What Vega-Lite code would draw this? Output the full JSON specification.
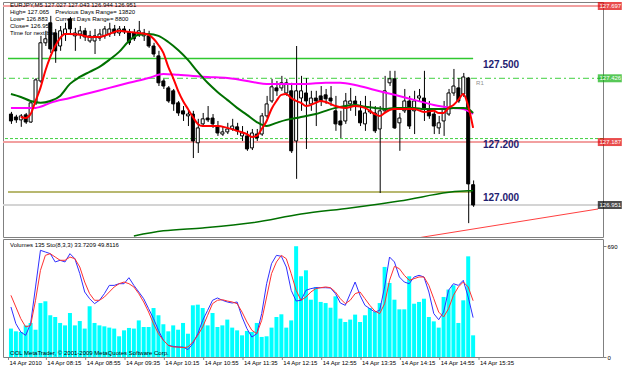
{
"$schema": "https://vega.github.io/schema/vega-lite/v6.json",
"background": "white",
"padding": {"left": 1, "top": 1, "right": 0, "bottom": 2},
"spacing": 2,
"bounds": "flush",
"config": {
  "view": {"stroke": "#808080", "strokeWidth": 1},
  "font": "Liberation Sans",
  "axis": {"labelFont": "Liberation Sans", "labelFontSize": 6, "labelColor": "#000000", "tickColor": "#808080", "tickSize": 3, "domain": false, "grid": false, "labelPadding": 1}
},
"datasets": {
  "candles": [
{"i":0,"o":127.292,"h":127.300,"l":127.255,"c":127.266},
{"i":1,"o":127.281,"h":127.289,"l":127.259,"c":127.270},
{"i":2,"o":127.270,"h":127.292,"l":127.244,"c":127.285},
{"i":3,"o":127.289,"h":127.296,"l":127.255,"c":127.262},
{"i":4,"o":127.262,"h":127.341,"l":127.259,"c":127.334},
{"i":5,"o":127.334,"h":127.427,"l":127.326,"c":127.420},
{"i":6,"o":127.416,"h":127.585,"l":127.409,"c":127.559},
{"i":7,"o":127.559,"h":127.604,"l":127.547,"c":127.574},
{"i":8,"o":127.634,"h":127.660,"l":127.521,"c":127.536},
{"i":9,"o":127.596,"h":127.611,"l":127.484,"c":127.529},
{"i":10,"o":127.547,"h":127.622,"l":127.529,"c":127.604},
{"i":11,"o":127.592,"h":127.634,"l":127.566,"c":127.611},
{"i":12,"o":127.649,"h":127.656,"l":127.592,"c":127.611},
{"i":13,"o":127.585,"h":127.615,"l":127.529,"c":127.596},
{"i":14,"o":127.592,"h":127.622,"l":127.574,"c":127.604},
{"i":15,"o":127.604,"h":127.615,"l":127.566,"c":127.581},
{"i":16,"o":127.566,"h":127.604,"l":127.559,"c":127.585},
{"i":17,"o":127.566,"h":127.611,"l":127.517,"c":127.585},
{"i":18,"o":127.577,"h":127.611,"l":127.566,"c":127.592},
{"i":19,"o":127.585,"h":127.622,"l":127.574,"c":127.611},
{"i":20,"o":127.592,"h":127.634,"l":127.581,"c":127.611},
{"i":21,"o":127.611,"h":127.626,"l":127.585,"c":127.596},
{"i":22,"o":127.596,"h":127.622,"l":127.585,"c":127.611},
{"i":23,"o":127.611,"h":127.622,"l":127.592,"c":127.600},
{"i":24,"o":127.600,"h":127.611,"l":127.551,"c":127.559},
{"i":25,"o":127.596,"h":127.611,"l":127.566,"c":127.574},
{"i":26,"o":127.589,"h":127.641,"l":127.581,"c":127.604},
{"i":27,"o":127.585,"h":127.611,"l":127.566,"c":127.596},
{"i":28,"o":127.585,"h":127.604,"l":127.540,"c":127.547},
{"i":29,"o":127.547,"h":127.559,"l":127.506,"c":127.517},
{"i":30,"o":127.510,"h":127.529,"l":127.397,"c":127.409},
{"i":31,"o":127.416,"h":127.424,"l":127.386,"c":127.397},
{"i":32,"o":127.390,"h":127.397,"l":127.334,"c":127.341},
{"i":33,"o":127.379,"h":127.386,"l":127.304,"c":127.330},
{"i":34,"o":127.334,"h":127.341,"l":127.285,"c":127.296},
{"i":35,"o":127.304,"h":127.322,"l":127.266,"c":127.292},
{"i":36,"o":127.285,"h":127.311,"l":127.247,"c":127.292},
{"i":37,"o":127.292,"h":127.304,"l":127.127,"c":127.191},
{"i":38,"o":127.184,"h":127.274,"l":127.146,"c":127.240},
{"i":39,"o":127.255,"h":127.296,"l":127.247,"c":127.274},
{"i":40,"o":127.277,"h":127.322,"l":127.262,"c":127.270},
{"i":41,"o":127.277,"h":127.292,"l":127.240,"c":127.255},
{"i":42,"o":127.247,"h":127.266,"l":127.210,"c":127.221},
{"i":43,"o":127.217,"h":127.244,"l":127.210,"c":127.225},
{"i":44,"o":127.225,"h":127.259,"l":127.217,"c":127.236},
{"i":45,"o":127.236,"h":127.274,"l":127.229,"c":127.247},
{"i":46,"o":127.244,"h":127.259,"l":127.214,"c":127.229},
{"i":47,"o":127.210,"h":127.247,"l":127.191,"c":127.221},
{"i":48,"o":127.210,"h":127.229,"l":127.154,"c":127.161},
{"i":49,"o":127.165,"h":127.236,"l":127.157,"c":127.221},
{"i":50,"o":127.217,"h":127.236,"l":127.191,"c":127.202},
{"i":51,"o":127.217,"h":127.296,"l":127.210,"c":127.285},
{"i":52,"o":127.285,"h":127.360,"l":127.277,"c":127.330},
{"i":53,"o":127.341,"h":127.424,"l":127.334,"c":127.394},
{"i":54,"o":127.390,"h":127.416,"l":127.360,"c":127.379},
{"i":55,"o":127.390,"h":127.435,"l":127.379,"c":127.409},
{"i":56,"o":127.371,"h":127.424,"l":127.360,"c":127.409},
{"i":57,"o":127.379,"h":127.409,"l":127.146,"c":127.154},
{"i":58,"o":127.191,"h":127.547,"l":127.049,"c":127.379},
{"i":59,"o":127.352,"h":127.435,"l":127.304,"c":127.379},
{"i":60,"o":127.371,"h":127.427,"l":127.161,"c":127.341},
{"i":61,"o":127.330,"h":127.379,"l":127.304,"c":127.352},
{"i":62,"o":127.352,"h":127.379,"l":127.247,"c":127.341},
{"i":63,"o":127.360,"h":127.397,"l":127.322,"c":127.341},
{"i":64,"o":127.364,"h":127.386,"l":127.330,"c":127.349},
{"i":65,"o":127.352,"h":127.397,"l":127.322,"c":127.341},
{"i":66,"o":127.304,"h":127.360,"l":127.229,"c":127.255},
{"i":67,"o":127.266,"h":127.304,"l":127.202,"c":127.251},
{"i":68,"o":127.266,"h":127.371,"l":127.255,"c":127.341},
{"i":69,"o":127.330,"h":127.390,"l":127.304,"c":127.341},
{"i":70,"o":127.341,"h":127.360,"l":127.285,"c":127.330},
{"i":71,"o":127.304,"h":127.341,"l":127.247,"c":127.259},
{"i":72,"o":127.255,"h":127.360,"l":127.229,"c":127.296},
{"i":73,"o":127.300,"h":127.341,"l":127.292,"c":127.304},
{"i":74,"o":127.296,"h":127.322,"l":127.221,"c":127.229},
{"i":75,"o":127.236,"h":127.322,"l":126.996,"c":127.304},
{"i":76,"o":127.304,"h":127.435,"l":127.296,"c":127.379},
{"i":77,"o":127.409,"h":127.454,"l":127.397,"c":127.424},
{"i":78,"o":127.424,"h":127.454,"l":127.236,"c":127.240},
{"i":79,"o":127.259,"h":127.296,"l":127.154,"c":127.277},
{"i":80,"o":127.304,"h":127.386,"l":127.296,"c":127.341},
{"i":81,"o":127.341,"h":127.360,"l":127.236,"c":127.247},
{"i":82,"o":127.304,"h":127.379,"l":127.217,"c":127.341},
{"i":83,"o":127.352,"h":127.386,"l":127.341,"c":127.360},
{"i":84,"o":127.352,"h":127.454,"l":127.266,"c":127.311},
{"i":85,"o":127.311,"h":127.341,"l":127.274,"c":127.285},
{"i":86,"o":127.292,"h":127.311,"l":127.217,"c":127.247},
{"i":87,"o":127.240,"h":127.285,"l":127.217,"c":127.259},
{"i":88,"o":127.266,"h":127.341,"l":127.210,"c":127.311},
{"i":89,"o":127.292,"h":127.386,"l":127.285,"c":127.371},
{"i":90,"o":127.371,"h":127.461,"l":127.360,"c":127.397},
{"i":91,"o":127.390,"h":127.427,"l":127.334,"c":127.341},
{"i":92,"o":127.367,"h":127.446,"l":127.356,"c":127.431},
{"i":93,"o":127.427,"h":127.431,"l":126.883,"c":127.030},
{"i":94,"o":127.027,"h":127.043,"l":126.944,"c":126.951}
  ],
  "maRed": [
{"i":2,"p":127.281},{"i":3,"p":127.277},{"i":4,"p":127.292},{"i":5,"p":127.341},{"i":6,"p":127.390},{"i":7,"p":127.454},{"i":8,"p":127.506},{"i":9,"p":127.547},{"i":10,"p":127.577},{"i":11,"p":127.592},{"i":12,"p":127.592},{"i":14,"p":127.589},{"i":16,"p":127.581},{"i":18,"p":127.581},{"i":20,"p":127.592},{"i":22,"p":127.604},{"i":24,"p":127.600},{"i":26,"p":127.596},{"i":28,"p":127.589},{"i":29,"p":127.574},{"i":30,"p":127.551},{"i":31,"p":127.521},{"i":32,"p":127.469},{"i":33,"p":127.427},{"i":34,"p":127.379},{"i":35,"p":127.341},{"i":36,"p":127.311},{"i":37,"p":127.281},{"i":38,"p":127.255},{"i":39,"p":127.247},{"i":40,"p":127.247},{"i":42,"p":127.247},{"i":44,"p":127.240},{"i":46,"p":127.229},{"i":48,"p":127.217},{"i":49,"p":127.206},{"i":50,"p":127.210},{"i":51,"p":127.236},{"i":52,"p":127.266},{"i":53,"p":127.311},{"i":54,"p":127.341},{"i":55,"p":127.364},{"i":56,"p":127.367},{"i":57,"p":127.352},{"i":58,"p":127.341},{"i":59,"p":127.334},{"i":60,"p":127.322},{"i":61,"p":127.326},{"i":62,"p":127.334},{"i":63,"p":127.341},{"i":64,"p":127.337},{"i":65,"p":127.330},{"i":66,"p":127.322},{"i":68,"p":127.315},{"i":70,"p":127.322},{"i":72,"p":127.315},{"i":74,"p":127.292},{"i":75,"p":127.285},{"i":76,"p":127.296},{"i":77,"p":127.307},{"i":78,"p":127.311},{"i":80,"p":127.311},{"i":82,"p":127.311},{"i":84,"p":127.300},{"i":86,"p":127.304},{"i":87,"p":127.296},{"i":88,"p":127.296},{"i":89,"p":127.315},{"i":90,"p":127.326},{"i":91,"p":127.345},{"i":92,"p":127.367},{"i":93,"p":127.322},{"i":94,"p":127.240}
  ],
  "maGreen": [
{"i":0,"p":127.367},{"i":2,"p":127.356},{"i":4,"p":127.341},{"i":6,"p":127.334},{"i":8,"p":127.341},{"i":10,"p":127.360},{"i":12,"p":127.405},{"i":14,"p":127.431},{"i":16,"p":127.450},{"i":18,"p":127.469},{"i":20,"p":127.495},{"i":22,"p":127.525},{"i":24,"p":127.566},{"i":26,"p":127.589},{"i":28,"p":127.592},{"i":30,"p":127.585},{"i":32,"p":127.562},{"i":34,"p":127.532},{"i":36,"p":127.495},{"i":38,"p":127.450},{"i":40,"p":127.409},{"i":42,"p":127.375},{"i":44,"p":127.345},{"i":46,"p":127.315},{"i":48,"p":127.289},{"i":50,"p":127.262},{"i":52,"p":127.247},{"i":54,"p":127.259},{"i":56,"p":127.270},{"i":58,"p":127.277},{"i":60,"p":127.285},{"i":62,"p":127.292},{"i":64,"p":127.304},{"i":66,"p":127.315},{"i":68,"p":127.322},{"i":70,"p":127.326},{"i":72,"p":127.319},{"i":74,"p":127.315},{"i":76,"p":127.311},{"i":78,"p":127.315},{"i":80,"p":127.315},{"i":82,"p":127.315},{"i":84,"p":127.311},{"i":86,"p":127.311},{"i":88,"p":127.311},{"i":90,"p":127.315},{"i":92,"p":127.315},{"i":93,"p":127.311},{"i":94,"p":127.296}
  ],
  "maMagenta": [
{"i":0,"p":127.315},{"i":5,"p":127.315},{"i":6,"p":127.319},{"i":8,"p":127.334},{"i":12,"p":127.352},{"i":16,"p":127.371},{"i":20,"p":127.390},{"i":24,"p":127.409},{"i":28,"p":127.427},{"i":31,"p":127.442},{"i":34,"p":127.439},{"i":40,"p":127.431},{"i":44,"p":127.427},{"i":48,"p":127.416},{"i":50,"p":127.409},{"i":52,"p":127.405},{"i":56,"p":127.405},{"i":60,"p":127.405},{"i":64,"p":127.409},{"i":67,"p":127.409},{"i":70,"p":127.401},{"i":74,"p":127.382},{"i":78,"p":127.364},{"i":82,"p":127.345},{"i":86,"p":127.326},{"i":90,"p":127.315},{"i":92,"p":127.311},{"i":94,"p":127.292}
  ],
  "maLong": [
{"i":25,"p":126.835},{"i":31,"p":126.854},{"i":39,"p":126.865},{"i":49,"p":126.884},{"i":59,"p":126.917},{"i":69,"p":126.940},{"i":75,"p":126.955},{"i":79,"p":126.966},{"i":93,"p":127.004},{"i":94,"p":127.004}
  ],
  "trend": [{"i":83.2,"p":126.829},{"i":119.4,"p":126.936}],
  "boxes": [{"p":127.697,"k":"r"},{"p":127.426,"k":"g"},{"p":127.187,"k":"r"},{"p":126.951,"k":"b"}],
  "ticks": [{"t":-0.5,"lab":"14 Apr 2010"},{"t":7.2,"lab":"14 Apr 08:15"},{"t":15.2,"lab":"14 Apr 08:55"},{"t":23.2,"lab":"14 Apr 09:35"},{"t":31.2,"lab":"14 Apr 10:15"},{"t":39.2,"lab":"14 Apr 10:55"},{"t":47.2,"lab":"14 Apr 11:35"},{"t":55.2,"lab":"14 Apr 12:15"},{"t":63.2,"lab":"14 Apr 12:55"},{"t":71.2,"lab":"14 Apr 13:35"},{"t":79.2,"lab":"14 Apr 14:15"},{"t":87.2,"lab":"14 Apr 14:55"},{"t":95.2,"lab":"14 Apr 15:35"}],
  "volumes": [
{"i":0,"v":177},{"i":1,"v":160},{"i":2,"v":156},{"i":3,"v":197},{"i":4,"v":212},{"i":5,"v":170},{"i":6,"v":336},{"i":7,"v":347},{"i":8,"v":260},{"i":9,"v":249},{"i":10,"v":212},{"i":11,"v":197},{"i":12,"v":274},{"i":13,"v":197},{"i":14,"v":224},{"i":15,"v":177},{"i":16,"v":316},{"i":17,"v":212},{"i":18,"v":197},{"i":19,"v":191},{"i":20,"v":183},{"i":21,"v":177},{"i":22,"v":129},{"i":23,"v":166},{"i":24,"v":181},{"i":25,"v":177},{"i":26,"v":228},{"i":27,"v":187},{"i":28,"v":187},{"i":29,"v":305},{"i":30,"v":260},{"i":31,"v":204},{"i":32,"v":160},{"i":33,"v":197},{"i":34,"v":170},{"i":35,"v":212},{"i":36,"v":145},{"i":37,"v":322},{"i":38,"v":326},{"i":39,"v":305},{"i":40,"v":197},{"i":41,"v":274},{"i":42,"v":187},{"i":43,"v":197},{"i":44,"v":233},{"i":45,"v":183},{"i":46,"v":166},{"i":47,"v":135},{"i":48,"v":162},{"i":49,"v":156},{"i":50,"v":212},{"i":51,"v":125},{"i":52,"v":129},{"i":53,"v":183},{"i":54,"v":249},{"i":55,"v":266},{"i":56,"v":183},{"i":57,"v":228},{"i":58,"v":690},{"i":59,"v":503},{"i":60,"v":540},{"i":61,"v":357},{"i":62,"v":436},{"i":63,"v":343},{"i":64,"v":336},{"i":65,"v":307},{"i":66,"v":378},{"i":67,"v":239},{"i":68,"v":218},{"i":69,"v":233},{"i":70,"v":264},{"i":71,"v":218},{"i":72,"v":260},{"i":73,"v":305},{"i":74,"v":280},{"i":75,"v":336},{"i":76,"v":561},{"i":77,"v":461},{"i":78,"v":357},{"i":79,"v":297},{"i":80,"v":297},{"i":81,"v":503},{"i":82,"v":332},{"i":83,"v":343},{"i":84,"v":363},{"i":85,"v":249},{"i":86,"v":222},{"i":87,"v":183},{"i":88,"v":374},{"i":89,"v":420},{"i":90,"v":447},{"i":91,"v":212},{"i":92,"v":353},{"i":93,"v":627},{"i":94,"v":135}
  ],
  "stoch": [
{"i":0,"k":43.8,"d":54.9},{"i":1,"k":27.9,"d":43.8},{"i":2,"k":20.0,"d":32.7},{"i":3,"k":16.8,"d":24.8},{"i":4,"k":27.9,"d":26.3},{"i":5,"k":62.9,"d":50.2},{"i":6,"k":97.8,"d":78.7},{"i":7,"k":96.2,"d":93.0},{"i":8,"k":94.6,"d":94.6},{"i":9,"k":86.7,"d":91.4},{"i":10,"k":88.3,"d":88.3},{"i":11,"k":86.7,"d":88.3},{"i":12,"k":94.6,"d":91.4},{"i":13,"k":89.8,"d":89.8},{"i":14,"k":75.6,"d":81.9},{"i":15,"k":58.1,"d":67.6},{"i":16,"k":51.7,"d":56.5},{"i":17,"k":47.0,"d":50.2},{"i":18,"k":50.2,"d":50.2},{"i":19,"k":56.5,"d":53.3},{"i":20,"k":64.4,"d":58.1},{"i":21,"k":64.4,"d":62.9},{"i":22,"k":66.0,"d":66.0},{"i":23,"k":66.0,"d":67.6},{"i":24,"k":71.7,"d":66.0},{"i":25,"k":64.4,"d":62.9},{"i":26,"k":58.1,"d":56.5},{"i":27,"k":51.7,"d":48.6},{"i":28,"k":42.2,"d":39.0},{"i":29,"k":32.7,"d":27.9},{"i":30,"k":21.6,"d":18.4},{"i":31,"k":12.1,"d":12.1},{"i":32,"k":7.3,"d":7.3},{"i":33,"k":6.3,"d":5.7},{"i":34,"k":5.7,"d":5.7},{"i":35,"k":5.7,"d":5.1},{"i":36,"k":3.2,"d":5.7},{"i":37,"k":8.9,"d":10.5},{"i":38,"k":18.4,"d":16.8},{"i":39,"k":31.1,"d":24.8},{"i":40,"k":40.6,"d":35.9},{"i":41,"k":50.2,"d":47.0},{"i":42,"k":52.4,"d":50.2},{"i":43,"k":50.2,"d":50.8},{"i":44,"k":48.6,"d":49.5},{"i":45,"k":47.6,"d":48.6},{"i":46,"k":48.6,"d":47.0},{"i":47,"k":34.3,"d":39.0},{"i":48,"k":23.2,"d":29.5},{"i":49,"k":15.2,"d":21.6},{"i":50,"k":18.4,"d":18.4},{"i":51,"k":37.5,"d":31.1},{"i":52,"k":66.0,"d":53.3},{"i":53,"k":85.1,"d":75.6},{"i":54,"k":93.0,"d":86.7},{"i":55,"k":92.1,"d":93.0},{"i":56,"k":81.9,"d":89.8},{"i":57,"k":59.7,"d":75.6},{"i":58,"k":49.5,"d":59.7},{"i":59,"k":50.2,"d":50.2},{"i":60,"k":59.7,"d":53.3},{"i":61,"k":61.3,"d":58.1},{"i":62,"k":62.2,"d":61.3},{"i":63,"k":62.2,"d":62.2},{"i":64,"k":62.2,"d":62.9},{"i":65,"k":61.9,"d":62.2},{"i":66,"k":56.5,"d":58.1},{"i":67,"k":47.6,"d":51.7},{"i":68,"k":45.4,"d":47.0},{"i":69,"k":56.5,"d":50.2},{"i":70,"k":67.6,"d":56.5},{"i":71,"k":54.9,"d":58.1},{"i":72,"k":45.4,"d":51.7},{"i":73,"k":42.2,"d":45.4},{"i":74,"k":39.0,"d":40.0},{"i":75,"k":40.6,"d":37.5},{"i":76,"k":62.9,"d":47.0},{"i":77,"k":91.4,"d":69.2},{"i":78,"k":86.7,"d":82.5},{"i":79,"k":72.4,"d":80.3},{"i":80,"k":67.6,"d":74.0},{"i":81,"k":66.0,"d":69.2},{"i":82,"k":72.4,"d":70.8},{"i":83,"k":74.0,"d":72.4},{"i":84,"k":72.4,"d":72.4},{"i":85,"k":58.1,"d":64.4},{"i":86,"k":37.5,"d":51.7},{"i":87,"k":31.7,"d":39.0},{"i":88,"k":39.0,"d":34.3},{"i":89,"k":59.7,"d":42.2},{"i":90,"k":66.0,"d":54.9},{"i":91,"k":64.4,"d":62.9},{"i":92,"k":69.2,"d":67.6},{"i":93,"k":53.3,"d":62.9},{"i":94,"k":33.7,"d":49.8}
  ]
},
"vconcat": [
{
  "width": 600, "height": 235,
  "layer": [
    {"data": {"values": [{}]}, "mark": {"type": "rule", "color": "#D4D4D4", "strokeWidth": 2},
     "encoding": {"y": {"datum": 126.951, "type": "quantitative", "scale": {"domain": [126.831, 127.712], "nice": false, "zero": false},
       "axis": {"orient": "right", "values": [126.835, 126.910, 126.985, 127.060, 127.135, 127.210, 127.285, 127.360, 127.435, 127.510, 127.585, 127.660], "format": ".3f", "labelOverlap": false, "title": null}}}},
    {"data": {"values": [{}]}, "mark": {"type": "rule", "color": "#F2A0A0", "strokeWidth": 2},
     "encoding": {"y": {"datum": 127.697, "type": "quantitative", "scale": {"domain": [126.831, 127.712], "nice": false, "zero": false}, "axis": null}}},
    {"data": {"values": [{}]}, "mark": {"type": "rule", "color": "#F2A0A0", "strokeWidth": 2},
     "encoding": {"y": {"datum": 127.187, "type": "quantitative", "scale": {"domain": [126.831, 127.712], "nice": false, "zero": false}, "axis": null}}},
    {"data": {"values": [{}]}, "mark": {"type": "rule", "color": "#40D040", "strokeWidth": 1, "strokeDash": [3, 2]},
     "encoding": {"y": {"datum": 127.200, "type": "quantitative", "scale": {"domain": [126.831, 127.712], "nice": false, "zero": false}, "axis": null}}},
    {"data": {"values": [{}]}, "mark": {"type": "rule", "color": "#40D040", "strokeWidth": 1, "strokeDash": [6, 3, 2, 3]},
     "encoding": {"y": {"datum": 127.426, "type": "quantitative", "scale": {"domain": [126.831, 127.712], "nice": false, "zero": false}, "axis": null}}},
    {"data": {"values": [{}]}, "mark": {"type": "rule", "color": "#30C830", "strokeWidth": 1.5},
     "encoding": {"x": {"datum": -0.6, "type": "quantitative", "scale": {"domain": [-0.6, 119.4], "nice": false, "zero": false}, "axis": null},
       "x2": {"datum": 94},
       "y": {"datum": 127.5, "type": "quantitative", "scale": {"domain": [126.831, 127.712], "nice": false, "zero": false}, "axis": null}}},
    {"data": {"values": [{}]}, "mark": {"type": "rule", "color": "#A0A040", "strokeWidth": 1.5},
     "encoding": {"x": {"datum": -0.6, "type": "quantitative", "scale": {"domain": [-0.6, 119.4], "nice": false, "zero": false}, "axis": null},
       "x2": {"datum": 93.6},
       "y": {"datum": 127.0, "type": "quantitative", "scale": {"domain": [126.831, 127.712], "nice": false, "zero": false}, "axis": null}}},
    {"data": {"name": "trend"}, "mark": {"type": "line", "color": "#FF4040", "strokeWidth": 1, "clip": true},
     "encoding": {"x": {"field": "i", "type": "quantitative", "scale": {"domain": [-0.6, 119.4], "nice": false, "zero": false}, "axis": null},
       "y": {"field": "p", "type": "quantitative", "scale": {"domain": [126.831, 127.712], "nice": false, "zero": false}, "axis": null}}},
    {"data": {"name": "candles"}, "mark": {"type": "rule", "color": "#000000", "strokeWidth": 1, "xOffset": 0.5},
     "encoding": {"x": {"field": "i", "type": "quantitative", "scale": {"domain": [-0.6, 119.4], "nice": false, "zero": false}, "axis": null},
       "y": {"field": "l", "type": "quantitative", "scale": {"domain": [126.831, 127.712], "nice": false, "zero": false}, "axis": null},
       "y2": {"field": "h"}}},
    {"data": {"name": "candles"}, "mark": {"type": "bar", "size": 3, "stroke": "#000000", "strokeWidth": 1},
     "encoding": {"x": {"field": "i", "type": "quantitative", "scale": {"domain": [-0.6, 119.4], "nice": false, "zero": false}, "axis": null},
       "y": {"field": "o", "type": "quantitative", "scale": {"domain": [126.831, 127.712], "nice": false, "zero": false}, "axis": null},
       "y2": {"field": "c"},
       "fill": {"condition": {"test": "datum.c < datum.o", "value": "#000000"}, "value": "#FFFFFF"}}},
    {"data": {"name": "maLong"}, "mark": {"type": "line", "color": "#007000", "strokeWidth": 1.5, "interpolate": "monotone"},
     "encoding": {"x": {"field": "i", "type": "quantitative", "scale": {"domain": [-0.6, 119.4], "nice": false, "zero": false}, "axis": null},
       "y": {"field": "p", "type": "quantitative", "scale": {"domain": [126.831, 127.712], "nice": false, "zero": false}, "axis": null}}},
    {"data": {"name": "maMagenta"}, "mark": {"type": "line", "color": "#FF00FF", "strokeWidth": 2, "interpolate": "monotone"},
     "encoding": {"x": {"field": "i", "type": "quantitative", "scale": {"domain": [-0.6, 119.4], "nice": false, "zero": false}, "axis": null},
       "y": {"field": "p", "type": "quantitative", "scale": {"domain": [126.831, 127.712], "nice": false, "zero": false}, "axis": null}}},
    {"data": {"name": "maGreen"}, "mark": {"type": "line", "color": "#007000", "strokeWidth": 2, "interpolate": "monotone"},
     "encoding": {"x": {"field": "i", "type": "quantitative", "scale": {"domain": [-0.6, 119.4], "nice": false, "zero": false}, "axis": null},
       "y": {"field": "p", "type": "quantitative", "scale": {"domain": [126.831, 127.712], "nice": false, "zero": false}, "axis": null}}},
    {"data": {"name": "maRed"}, "mark": {"type": "line", "color": "#FF0000", "strokeWidth": 2, "interpolate": "monotone"},
     "encoding": {"x": {"field": "i", "type": "quantitative", "scale": {"domain": [-0.6, 119.4], "nice": false, "zero": false}, "axis": null},
       "y": {"field": "p", "type": "quantitative", "scale": {"domain": [126.831, 127.712], "nice": false, "zero": false}, "axis": null}}},
    {"data": {"values": [{}]}, "mark": {"type": "text", "align": "left", "baseline": "top", "fontSize": 6, "lineHeight": 7, "color": "#000000"},
     "encoding": {"x": {"datum": -0.2, "type": "quantitative", "scale": {"domain": [-0.6, 119.4], "nice": false, "zero": false}, "axis": null},
       "y": {"datum": 127.712, "type": "quantitative", "scale": {"domain": [126.831, 127.712], "nice": false, "zero": false}, "axis": null},
       "text": {"value": ["EURJPY,M5  127.027 127.043 126.944 126.951", "High= 127.065", "Low= 126.883", "Close= 126.951", "Time for next bar"]}}},
    {"data": {"values": [{}]}, "mark": {"type": "text", "align": "left", "baseline": "top", "fontSize": 6, "lineHeight": 7, "color": "#000000", "dy": 7},
     "encoding": {"x": {"datum": 9, "type": "quantitative", "scale": {"domain": [-0.6, 119.4], "nice": false, "zero": false}, "axis": null},
       "y": {"datum": 127.712, "type": "quantitative", "scale": {"domain": [126.831, 127.712], "nice": false, "zero": false}, "axis": null},
       "text": {"value": ["Previous Days Range= 13820", "Current Days Range= 8800"]}}},
    {"data": {"values": [{"lvl": 127.5}, {"lvl": 127.2}, {"lvl": 127.0}]}, "mark": {"type": "text", "align": "left", "baseline": "middle", "fontSize": 10, "fontWeight": "bold", "color": "#1E2070", "dy": 6},
     "encoding": {"x": {"datum": 96, "type": "quantitative", "scale": {"domain": [-0.6, 119.4], "nice": false, "zero": false}, "axis": null},
       "y": {"field": "lvl", "type": "quantitative", "scale": {"domain": [126.831, 127.712], "nice": false, "zero": false}, "axis": null},
       "text": {"field": "lvl", "format": ".3f"}}},
    {"data": {"values": [{}]}, "mark": {"type": "text", "align": "left", "baseline": "top", "fontSize": 6, "color": "#909090", "dy": 2},
     "encoding": {"x": {"datum": 94.6, "type": "quantitative", "scale": {"domain": [-0.6, 119.4], "nice": false, "zero": false}, "axis": null},
       "y": {"datum": 127.426, "type": "quantitative", "scale": {"domain": [126.831, 127.712], "nice": false, "zero": false}, "axis": null},
       "text": {"value": "R1"}}},
    {"data": {"name": "boxes"}, "mark": {"type": "tick", "orient": "horizontal", "thickness": 8, "size": 24},
     "encoding": {"x": {"datum": 121.8, "type": "quantitative", "scale": {"domain": [-0.6, 119.4], "nice": false, "zero": false}, "axis": null},
       "y": {"field": "p", "type": "quantitative", "scale": {"domain": [126.831, 127.712], "nice": false, "zero": false}, "axis": null},
       "color": {"field": "k", "type": "nominal", "scale": {"domain": ["r", "g", "b"], "range": ["#E00000", "#10B010", "#000000"]}, "legend": null}}},
    {"data": {"name": "boxes"}, "mark": {"type": "text", "align": "left", "baseline": "middle", "fontSize": 6, "color": "#FFFFFF"},
     "encoding": {"x": {"datum": 119.7, "type": "quantitative", "scale": {"domain": [-0.6, 119.4], "nice": false, "zero": false}, "axis": null},
       "y": {"field": "p", "type": "quantitative", "scale": {"domain": [126.831, 127.712], "nice": false, "zero": false}, "axis": null},
       "text": {"field": "p", "format": ".3f"}}}
  ]
},
{
  "width": 600, "height": 118,
  "resolve": {"scale": {"y": "independent"}, "axis": {"y": "independent"}},
  "layer": [
    {"data": {"name": "volumes"}, "mark": {"type": "bar", "size": 4, "color": "#00FFFF"},
     "encoding": {"x": {"field": "i", "type": "quantitative", "scale": {"domain": [-0.6, 119.4], "nice": false, "zero": false}, "axis": null},
       "y": {"field": "v", "type": "quantitative", "scale": {"domain": [0, 735], "nice": false, "zero": false},
        "axis": {"orient": "right", "values": [0, 690], "labelOverlap": false, "title": null}}}},
    {"data": {"name": "stoch"}, "mark": {"type": "line", "color": "#3030FF", "strokeWidth": 1},
     "encoding": {"x": {"field": "i", "type": "quantitative", "scale": {"domain": [-0.6, 119.4], "nice": false, "zero": false}, "axis": null},
       "y": {"field": "k", "type": "quantitative", "scale": {"domain": [-3.81, 108.57], "nice": false, "zero": false}, "axis": null}}},
    {"data": {"name": "stoch"}, "mark": {"type": "line", "color": "#FF3030", "strokeWidth": 1},
     "encoding": {"x": {"field": "i", "type": "quantitative", "scale": {"domain": [-0.6, 119.4], "nice": false, "zero": false}, "axis": null},
       "y": {"field": "d", "type": "quantitative", "scale": {"domain": [-3.81, 108.57], "nice": false, "zero": false}, "axis": null}}},
    {"data": {"values": [{}]}, "mark": {"type": "text", "align": "left", "baseline": "top", "fontSize": 6, "color": "#000000", "dy": 3},
     "encoding": {"x": {"datum": -0.2, "type": "quantitative", "scale": {"domain": [-0.6, 119.4], "nice": false, "zero": false}, "axis": null},
       "y": {"datum": 735, "type": "quantitative", "scale": {"domain": [0, 735], "nice": false, "zero": false}, "axis": null},
       "text": {"value": "Volumes 135  Sto(8,3,3) 33.7209 49.8116"}}},
    {"data": {"values": [{}]}, "mark": {"type": "text", "align": "left", "baseline": "bottom", "fontSize": 6, "color": "#000000", "dy": -1},
     "encoding": {"x": {"datum": -0.2, "type": "quantitative", "scale": {"domain": [-0.6, 119.4], "nice": false, "zero": false}, "axis": null},
       "y": {"datum": 0, "type": "quantitative", "scale": {"domain": [0, 735], "nice": false, "zero": false}, "axis": null},
       "text": {"value": "OOL MetaTrader, © 2001-2009 MetaQuotes Software Corp."}}},
    {"data": {"name": "ticks"}, "mark": {"type": "rule", "color": "#808080", "strokeWidth": 1, "clip": false},
     "encoding": {"x": {"field": "t", "type": "quantitative", "scale": {"domain": [-0.6, 119.4], "nice": false, "zero": false}, "axis": null},
       "y": {"datum": 0, "type": "quantitative", "scale": {"domain": [0, 735], "nice": false, "zero": false}, "axis": null},
       "y2": {"datum": -18}}},
    {"data": {"name": "ticks"}, "mark": {"type": "text", "align": "left", "baseline": "top", "fontSize": 6, "color": "#000000", "dx": 1, "dy": 3},
     "encoding": {"x": {"field": "t", "type": "quantitative", "scale": {"domain": [-0.6, 119.4], "nice": false, "zero": false}, "axis": null},
       "y": {"datum": 0, "type": "quantitative", "scale": {"domain": [0, 735], "nice": false, "zero": false}, "axis": null},
       "text": {"field": "lab"}}}
  ]
}
]
}
